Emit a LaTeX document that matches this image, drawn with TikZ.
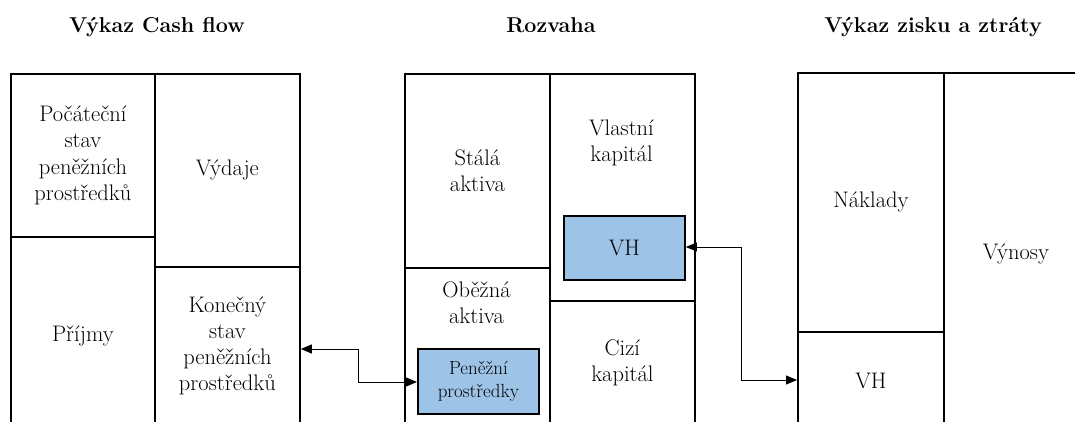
\documentclass[tikz,border=0pt]{standalone}
\usetikzlibrary{arrows.meta}
\definecolor{cellblue}{RGB}{157,195,230}
\begin{document}
\begin{tikzpicture}[x=1pt,y=-1pt,
  cell/.style={draw=black, line width=1.8pt, rectangle, inner sep=0pt, anchor=north west},
  lbl/.style={align=center, font=\fontsize{22.5}{26.3}\selectfont, inner sep=0pt},
  small/.style={align=center, font=\fontsize{19}{23}\selectfont, inner sep=0pt},
  ttl/.style={font=\fontsize{21.5}{28}\selectfont\bfseries, inner sep=0pt, anchor=base},
  conn/.style={line width=0.9pt, {Triangle[length=11pt,width=9pt]}-{Triangle[length=11pt,width=9pt]}}
]
\useasboundingbox (0,0) rectangle (1075,422);
\clip (0,0) rectangle (1075,422);
% titles
\node[ttl] (t1) at (157,33) {Výkaz Cash flow};
\node[ttl] (t2) at (551,33) {Rozvaha};
\node[ttl] (t3) at (933,33) {Výkaz zisku a ztráty};
% Cash flow
\node[cell, minimum width=144pt, minimum height=163pt] (poc) at (10,73) {};
\node[lbl] at (poc.center) {Počáteční\\stav\\peněžních\\prostředků};
\node[cell, minimum width=144pt, minimum height=198pt] (prij) at (10,236) {};
\node[lbl] at (prij.center) {Příjmy};
\node[cell, minimum width=145pt, minimum height=193pt] (vyd) at (154,73) {};
\node[lbl] at (vyd.center) {Výdaje};
\node[cell, minimum width=145pt, minimum height=158pt] (kon) at (154,266) {};
\node[lbl] at (kon.center) {Konečný\\stav\\peněžních\\prostředků};
% Rozvaha
\node[cell, minimum width=145pt, minimum height=194pt] (sta) at (404,73) {};
\node[lbl] at (sta.center) {Stálá\\aktiva};
\node[cell, minimum width=145pt, minimum height=170pt] (obe) at (404,267) {};
\node[lbl] at (476.5,303) {Oběžná\\aktiva};
\node[cell, minimum width=145pt, minimum height=227pt] (vla) at (549,73) {};
\node[lbl] at (621.5,143) {Vlastní\\kapitál};
\node[cell, minimum width=145pt, minimum height=124pt] (ciz) at (549,300) {};
\node[lbl] at (ciz.center) {Cizí\\kapitál};
\node[cell, fill=cellblue, minimum width=121pt, minimum height=64pt] (vh1) at (563,215) {};
\node[lbl] at (vh1.center) {VH};
\node[cell, fill=cellblue, minimum width=121pt, minimum height=65pt] (pen) at (417,348) {};
\node[small] at (pen.center) {Peněžní\\prostředky};
% Vykaz zisku a ztraty
\node[cell, minimum width=146pt, minimum height=259pt] (nak) at (797,72) {};
\node[lbl] at (nak.center) {Náklady};
\node[cell, minimum width=146pt, minimum height=99pt] (vh2) at (797,331) {};
\node[lbl] at (vh2.center) {VH};
\node[cell, minimum width=144pt, minimum height=362pt] (vyn) at (943,72) {};
\node[lbl] at (vyn.center) {Výnosy};
% connectors
\coordinate (c1) at (358,382);
\coordinate (c2) at (358,349);
\draw[conn] (pen.west |- c1) -- (c1) -- (c2) -- (kon.east |- c2);
\coordinate (c3) at (741,247);
\coordinate (c4) at (741,380);
\draw[conn] (vh1.east |- c3) -- (c3) -- (c4) -- (vh2.west |- c4);
\end{tikzpicture}
\end{document}
